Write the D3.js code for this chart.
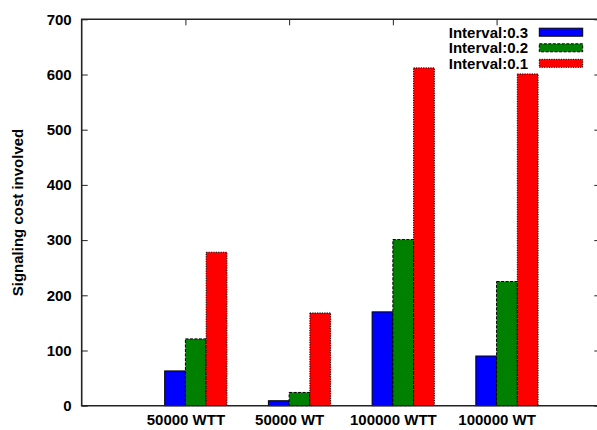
<!DOCTYPE html>
<html>
<head>
<meta charset="utf-8">
<script src="https://cdn.jsdelivr.net/npm/d3@7"></script>
<style>
  html, body { margin: 0; padding: 0; background: #fff; }
  svg { display: block; }
  text { font-family: "Liberation Sans", Arial, Helvetica, sans-serif; font-weight: bold; }
</style>
</head>
<body>
<svg id="chart" width="597" height="430"></svg>
<script>
// ---- data ----
const categories = ["50000 WTT", "50000 WT", "100000 WTT", "100000 WT"];
const seriesNames = ["Interval:0.3", "Interval:0.2", "Interval:0.1"];
const interval03 = [63, 9, 170, 90];
const interval02 = [121, 24, 301, 225];
const interval01 = [278, 168, 612, 601];
const yTicks = [0, 100, 200, 300, 400, 500, 600, 700];

// ---- styling ----
const seriesValues = [interval03, interval02, interval01];
const colors = ["#0000ff", "#008000", "#ff0000"];
const dashes = [null, "3,1.5", "1.2,1.2"];

const svg = d3.select("#chart");
const pL = 81.7, pR = 600.3, pT = 19.3, pB = 405.7;

const x = d3.scaleLinear().domain([-1, 4]).range([pL, pR]);
const y = d3.scaleLinear().domain([0, 700]).range([pB, pT]);
const barW = 0.2;
const offsets = [-0.2, 0, 0.2];

// ticks (drawn under bars)
svg.append("g")
  .attr("transform", `translate(${pL},0)`)
  .call(d3.axisLeft(y).tickValues(yTicks).tickSizeInner(-6).tickSizeOuter(0).tickPadding(10))
  .call(g => g.select(".domain").remove())
  .call(g => g.selectAll("line").attr("stroke", "#222"))
  .call(g => g.selectAll("text").attr("font-size", 15).attr("fill", "#000"));

svg.append("g")
  .attr("transform", `translate(${pR},0)`)
  .call(d3.axisRight(y).tickValues(yTicks).tickSizeInner(-6).tickSizeOuter(0).tickFormat(""))
  .call(g => g.select(".domain").remove())
  .call(g => g.selectAll("line").attr("stroke", "#222"));

svg.append("g")
  .attr("transform", `translate(0,${pT})`)
  .call(d3.axisTop(x).tickValues(d3.range(categories.length)).tickSizeInner(-6).tickSizeOuter(0).tickFormat(""))
  .call(g => g.select(".domain").remove())
  .call(g => g.selectAll("line").attr("stroke", "#222"));

svg.append("g")
  .attr("transform", `translate(0,${pB})`)
  .call(d3.axisBottom(x).tickValues(d3.range(categories.length)).tickSizeInner(0).tickSizeOuter(0)
    .tickPadding(9).tickFormat(i => categories[i]))
  .call(g => g.select(".domain").remove())
  .call(g => g.selectAll("text").attr("font-size", 15).attr("fill", "#000"));

// bars
seriesValues.forEach((vals, s) => {
  svg.append("g")
    .selectAll("rect")
    .data(vals)
    .join("rect")
    .attr("x", (d, i) => x(i + offsets[s]))
    .attr("width", x(barW) - x(0))
    .attr("y", d => y(d))
    .attr("height", d => y(0) - y(d))
    .attr("fill", colors[s])
    .attr("stroke", "#000")
    .attr("stroke-width", 1)
    .attr("stroke-dasharray", dashes[s]);
});

// frame
svg.append("path")
  .attr("d", `M${pR},${pT}H${pL}V${pB}H${pR}Z`)
  .attr("fill", "none")
  .attr("stroke", "#222")
  .attr("stroke-width", 1.6);

// y label
svg.append("text")
  .attr("transform", `translate(23,${(pT + pB) / 2}) rotate(-90)`)
  .attr("text-anchor", "middle")
  .attr("font-size", 15)
  .text("Signaling cost involved");

// legend
const legY = [32.2, 47.8, 63.3];
seriesNames.forEach((name, s) => {
  svg.append("text")
    .attr("x", 528)
    .attr("y", legY[s])
    .attr("dy", "0.36em")
    .attr("text-anchor", "end")
    .attr("font-size", 15)
    .text(name);
  svg.append("rect")
    .attr("x", 539.3)
    .attr("y", legY[s] - 4)
    .attr("width", 43.4)
    .attr("height", 8)
    .attr("fill", colors[s])
    .attr("stroke", "#000")
    .attr("stroke-width", 1)
    .attr("stroke-dasharray", dashes[s]);
});
</script>
</body>
</html>
